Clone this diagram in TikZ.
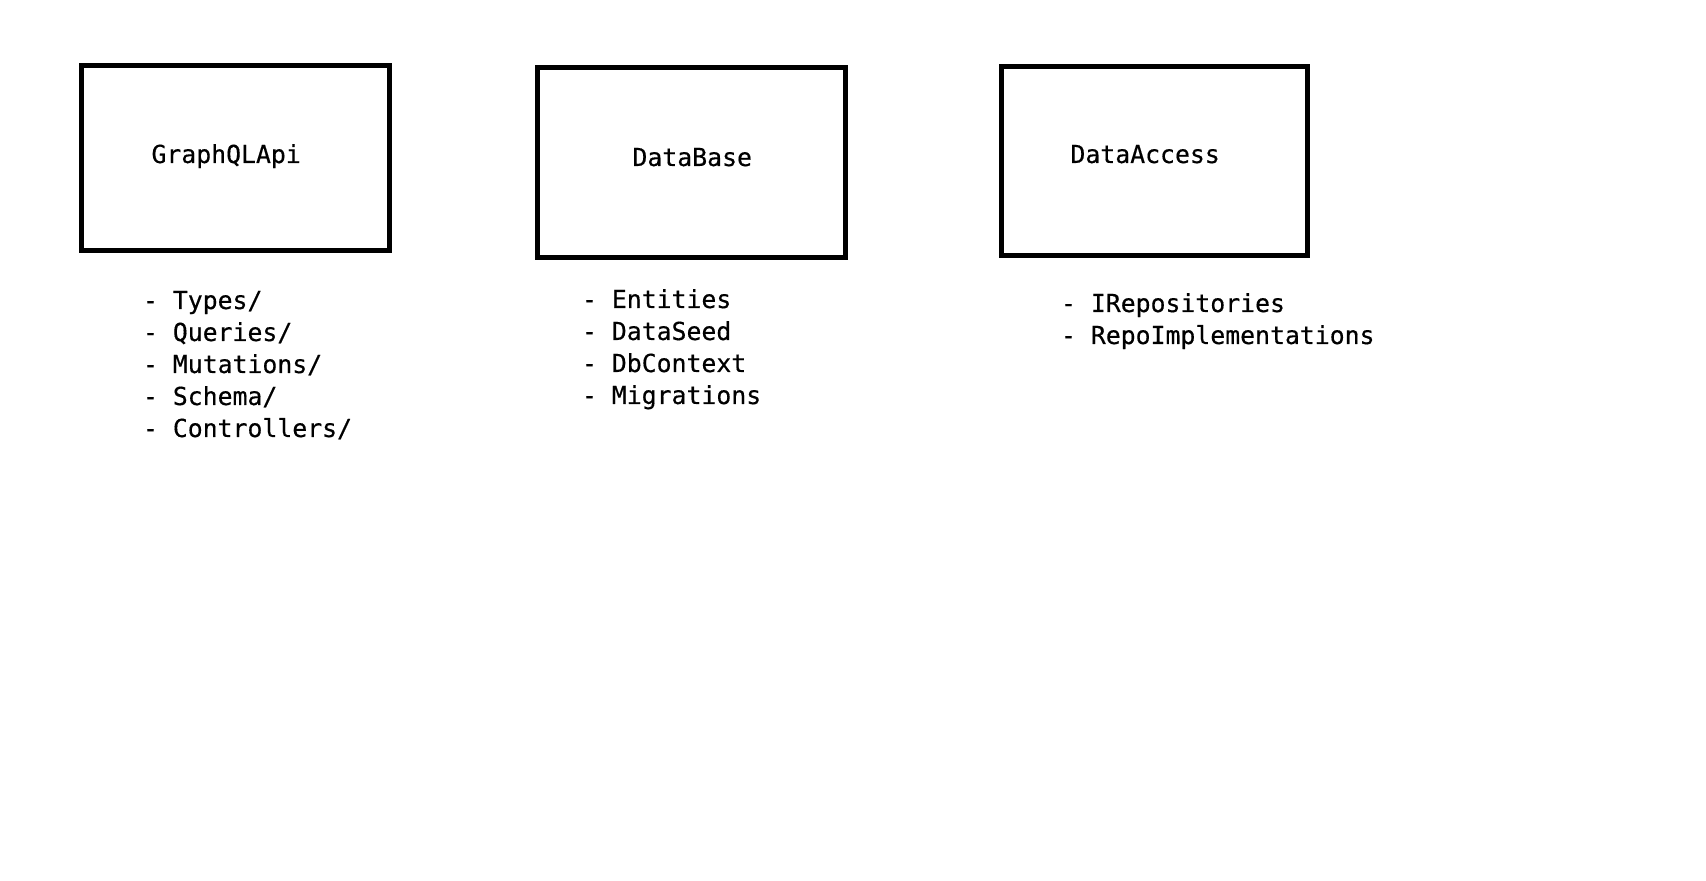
\documentclass[tikz,border=0pt]{standalone}
\usepackage{fontspec}
\setmonofont[FakeBold=0.4]{DejaVu Sans Mono}
\begin{document}
\begin{tikzpicture}[x=0.5pt,y=-0.5pt,
  modbox/.style={draw=black, line width=2.5pt, inner sep=0pt, outer sep=0pt, fill=none},
  txt/.style={anchor=base west, inner sep=0pt, outer sep=0pt, font=\ttfamily\fontsize{12.4pt}{16pt}\selectfont, text=black}]
\useasboundingbox[fill=white] (0,0) rectangle (1706,881);
% boxes
\node[modbox, minimum width=154pt, minimum height=92.5pt] (api) at (235.5,158) {};
\node[modbox, minimum width=154pt, minimum height=95pt] (db) at (691.5,162.5) {};
\node[modbox, minimum width=153pt, minimum height=94.5pt] (da) at (1154.5,161) {};
% box labels
\node[txt] (apil) at (151.5,163) {GraphQLApi};
\node[txt] (dbl) at (632.5,166) {DataBase};
\node[txt] (dal) at (1070.5,163) {DataAccess};
% GraphQLApi list
\node[txt] (a1) at (143,309) {- Types/};
\node[txt] (a2) at (143,341) {- Queries/};
\node[txt] (a3) at (143,373) {- Mutations/};
\node[txt] (a4) at (143,405) {- Schema/};
\node[txt] (a5) at (143,437) {- Controllers/};
% DataBase list
\node[txt] (b1) at (582,308) {- Entities};
\node[txt] (b2) at (582,340) {- DataSeed};
\node[txt] (b3) at (582,372) {- DbContext};
\node[txt] (b4) at (582,404) {- Migrations};
% DataAccess list
\node[txt] (c1) at (1061,312) {- IRepositories};
\node[txt] (c2) at (1061,344) {- RepoImplementations};
\end{tikzpicture}
\end{document}
